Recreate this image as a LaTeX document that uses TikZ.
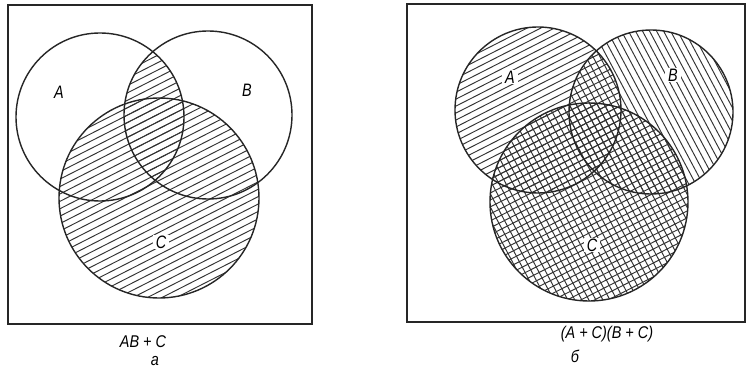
\documentclass[tikz,border=0pt]{standalone}
\usepackage{fontspec}
\setmainfont{Liberation Sans}
\begin{document}
\begin{tikzpicture}[x=1pt,y=-1pt,
  outline/.style={line width=1.4pt, black!85},
  frame/.style={line width=1.8pt, black!85},
  hatchline/.style={line width=0.95pt, black!80},
  lbl/.style={font=\fontsize{18}{18}\selectfont\itshape, inner sep=1pt, xscale=0.8},
  lblw/.style={lbl, fill=white, inner xsep=4pt, inner ysep=1pt},
  capt/.style={font=\fontsize{17}{17}\selectfont\itshape, inner sep=0pt, xscale=0.85}]
\useasboundingbox (0,0) rectangle (747,377);
\fill[white] (0,0) rectangle (747,377);
\newcommand\hatchfam[4]{% cx, cy, angle, spacing
  \begin{scope}[shift={(#1,#2)}, rotate=#3]
    \foreach \k in {-40,...,40} \draw[hatchline] (-300,\k*#4) -- (300,\k*#4);
  \end{scope}}
% ---------- left panel ----------
\coordinate (LA) at (100,117);
\coordinate (LB) at (208,115);
\coordinate (LC) at (159,198);
\begin{scope}
  \clip (LC) circle[radius=100pt];
  \hatchfam{160}{180}{27}{6.6}
\end{scope}
\begin{scope}
  \clip (LA) circle[radius=84pt];
  \clip (LB) circle[radius=84pt];
  \hatchfam{160}{180}{27}{6.6}
\end{scope}
\draw[outline] (LA) circle[radius=84pt];
\draw[outline] (LB) circle[radius=84pt];
\draw[outline] (LC) circle[radius=100pt];
\draw[frame] (8,5) rectangle (312,324);
\node[lbl] (la) at (59,92) {A};
\node[lbl] (lb) at (247,90) {B};
\node[lblw] (lc) at (161,242) {C};
\node[capt] (lcap) at (143,342) {AB + C};
\node[capt] (lsub) at (155,361) {а};
% ---------- right panel ----------
\coordinate (RA) at (538,110);
\coordinate (RB) at (651,112);
\coordinate (RC) at (589,202);
\begin{scope}
  \clip (RA) circle[radius=83pt];
  \hatchfam{590}{170}{27}{6.2}
\end{scope}
\begin{scope}
  \clip (RC) circle[radius=99pt];
  \hatchfam{590}{170}{27}{6.2}
\end{scope}
\begin{scope}
  \clip (RB) circle[radius=82pt];
  \hatchfam{590}{170}{-62}{6.2}
\end{scope}
\begin{scope}
  \clip (RC) circle[radius=99pt];
  \hatchfam{590}{170}{-62}{6.2}
\end{scope}
\draw[outline] (RA) circle[radius=83pt];
\draw[outline] (RB) circle[radius=82pt];
\draw[outline] (RC) circle[radius=99pt];
\draw[frame] (407,4) rectangle (745,322);
\node[lblw] (ra) at (510,77) {A};
\node[lblw] (rb) at (673,75) {B};
\node[lblw] (rc) at (592,245) {C};
\node[capt] (rcap) at (607,334) {(A + C)(B + C)};
\node[capt] (rsub) at (575,356) {б};
\end{tikzpicture}
\end{document}
